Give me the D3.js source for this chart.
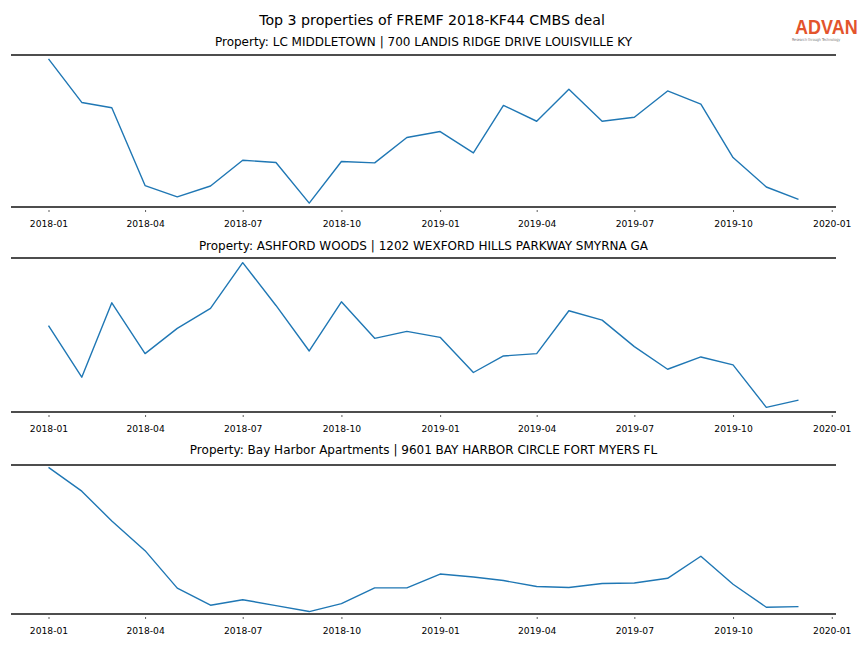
<!DOCTYPE html>
<html>
<head>
<meta charset="utf-8">
<script src="https://cdn.jsdelivr.net/npm/d3@7"></script>
<style>
  html, body { margin: 0; padding: 0; background: #fff; }
  svg { display: block; font-family: "DejaVu Sans", sans-serif; }
</style>
</head>
<body>
<svg id="chart" width="864" height="648"></svg>
<script>
// ---- data ----
const suptitle = "Top 3 properties of FREMF 2018-KF44 CMBS deal";
const months = ["2018-01","2018-02","2018-03","2018-04","2018-05","2018-06","2018-07","2018-08","2018-09","2018-10","2018-11","2018-12",
                "2019-01","2019-02","2019-03","2019-04","2019-05","2019-06","2019-07","2019-08","2019-09","2019-10","2019-11","2019-12"];
const tickLabels = ["2018-01","2018-04","2018-07","2018-10","2019-01","2019-04","2019-07","2019-10","2020-01"];
const propertyTitles = [
  "Property: LC MIDDLETOWN | 700 LANDIS RIDGE DRIVE LOUISVILLE KY",
  "Property: ASHFORD WOODS | 1202 WEXFORD HILLS PARKWAY SMYRNA GA",
  "Property: Bay Harbor Apartments | 9601 BAY HARBOR CIRCLE FORT MYERS FL"
];
const visitsLC      = [1487,1047,993,207,93,203,463,440,30,450,437,693,753,537,1017,857,1180,857,897,1163,1030,490,193,67];
const visitsAshford = [854,337,1084,574,827,1027,1487,1057,600,1094,727,797,737,384,550,574,1004,910,644,417,540,460,34,107];
const visitsBay     = [1473,1233,930,630,250,77,133,73,13,93,253,253,393,363,327,267,257,297,303,350,573,290,57,63];
const series = [visitsLC, visitsAshford, visitsBay];
const padFrac = [0.02, 0.025, 0.01];

// ---- layout ----
const svg = d3.select("#chart");
const W = 864;
const left = 11, right = 836;
const panels = [
  {top: 55, bottom: 207, titleY: 46},
  {top: 258, bottom: 412, titleY: 250},
  {top: 465, bottom: 614, titleY: 454}
];
const parse = d3.timeParse("%Y-%m");
const dates = months.map(parse);
const ticks = tickLabels.map(parse);
const [d0, d1] = d3.extent(dates);
const span = d1 - d0;
const x = d3.scaleTime()
  .domain([new Date(+d0 - 0.05 * span), new Date(+d1 + 0.05 * span)])
  .range([left, right]);

const blue = "#1f77b4";
const spineColor = "#4d4d4d";

svg.append("text")
  .attr("x", W / 2).attr("y", 24.5)
  .attr("text-anchor", "middle")
  .attr("font-size", 14.2)
  .attr("fill", "#000")
  .text(suptitle);

// logo
const logo = svg.append("g");
logo.append("text")
  .attr("transform", "translate(795,34) scale(0.9,1)")
  .attr("font-size", 20)
  .attr("font-weight", 600)
  .attr("font-family", "Liberation Sans, Arial, sans-serif")
  .attr("fill", "#e3542c")
  .text("ADVAN");
logo.append("text")
  .attr("transform", "translate(792,41) scale(0.82,1)")
  .attr("font-size", 4)
  .attr("fill", "#777")
  .text("Research through Technology");

panels.forEach((p, i) => {
  const vals = series[i];
  const [mn, mx] = d3.extent(vals);
  const pad = (mx - mn) * padFrac[i];
  const y = d3.scaleLinear().domain([mn - pad, mx + pad]).range([p.bottom - 1, p.top + 1]);
  const g = svg.append("g");

  g.append("text")
    .attr("x", (left + right) / 2).attr("y", p.titleY)
    .attr("text-anchor", "middle")
    .attr("font-size", 12)
    .attr("fill", "#000")
    .text(propertyTitles[i]);

  // line
  g.append("path")
    .datum(vals.map((v, k) => [dates[k], v]))
    .attr("fill", "none")
    .attr("stroke", blue)
    .attr("stroke-width", 1.4)
    .attr("stroke-linejoin", "round")
    .attr("d", d3.line().x(d => x(d[0])).y(d => y(d[1])));

  // x axis
  const ax = g.append("g")
    .attr("transform", `translate(0,${p.bottom})`)
    .call(d3.axisBottom(x).tickValues(ticks).tickFormat(d3.timeFormat("%Y-%m")).tickSize(5).tickPadding(8));
  ax.select(".domain").remove();
  ax.selectAll(".tick line").attr("stroke", "#333").attr("stroke-width", 0.8).attr("y1", 3);
  ax.selectAll(".tick text").attr("font-size", 9.2).attr("font-family", "DejaVu Sans, sans-serif").attr("fill", "#000");

  // spines top and bottom
  [p.top, p.bottom].forEach(yy => {
    g.append("line")
      .attr("x1", left).attr("x2", right)
      .attr("y1", yy).attr("y2", yy)
      .attr("stroke", spineColor)
      .attr("stroke-width", 1.8);
  });
});
</script>
</body>
</html>
